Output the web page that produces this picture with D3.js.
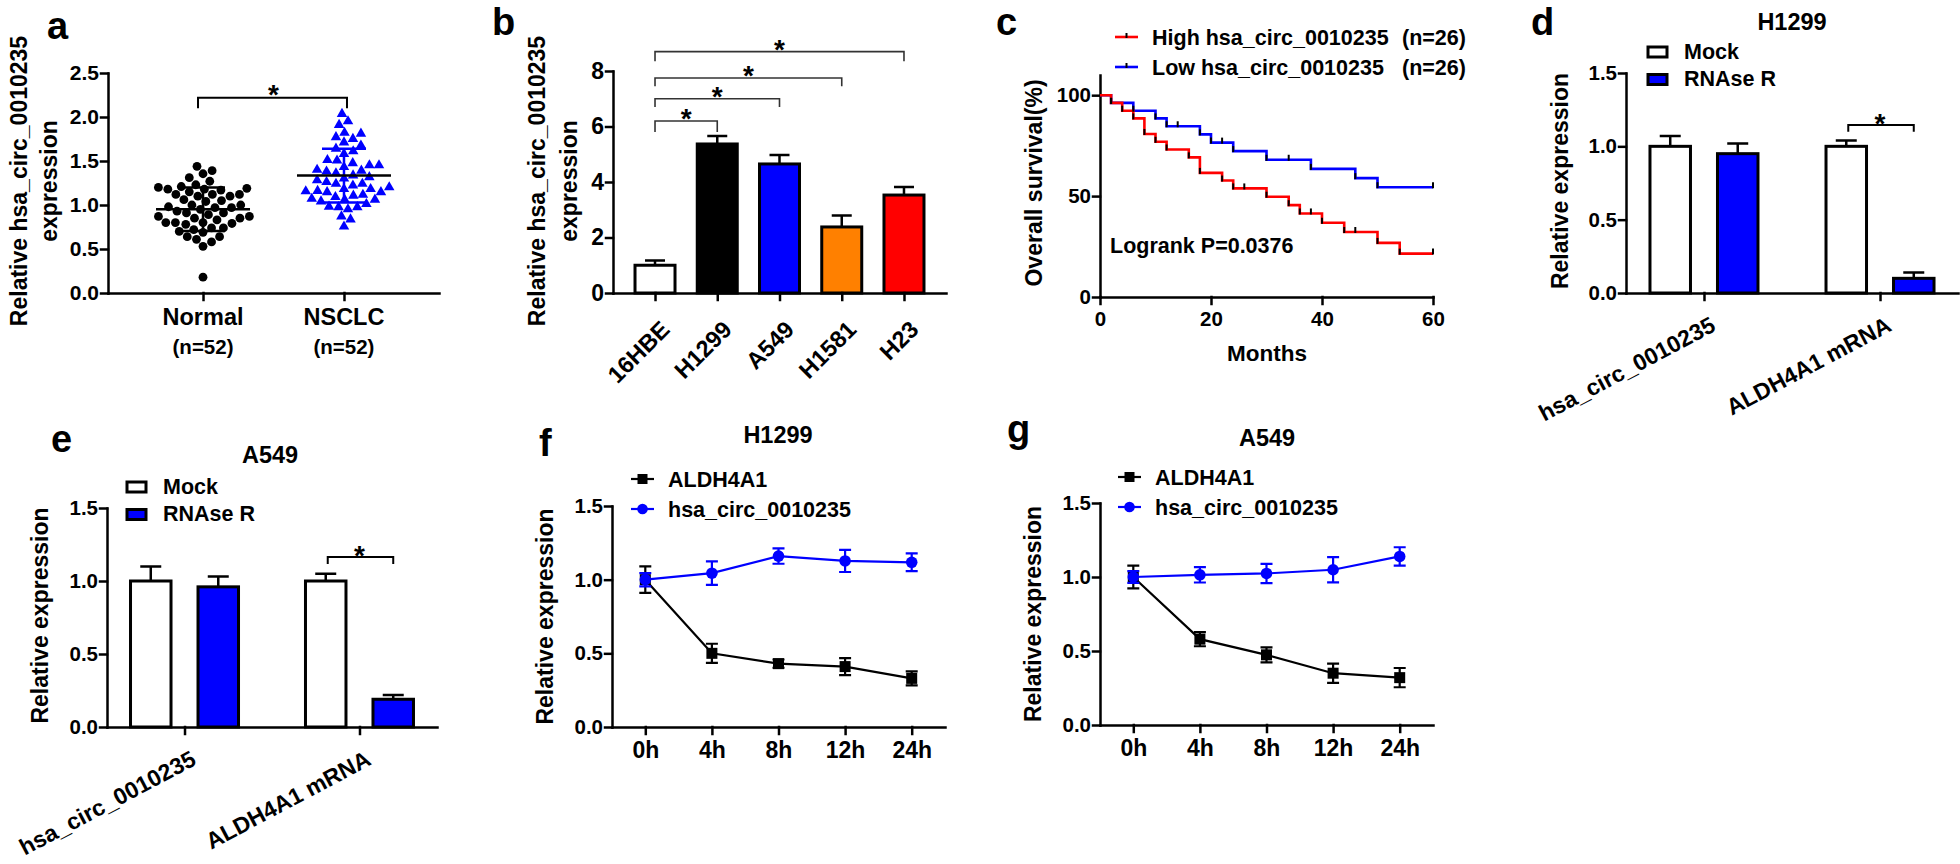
<!DOCTYPE html>
<html><head><meta charset="utf-8">
<script src="https://cdn.jsdelivr.net/npm/d3@7"></script>
<style>
body{margin:0;background:#fff;}
svg{display:block;font-family:"Liberation Sans",Arial,Helvetica,sans-serif;font-weight:bold;}
</style></head><body>
<svg id="fig" width="1960" height="864"></svg>
<script>
// ---------------- DATA ----------------
// Panel a
const scatterGroups = ["Normal", "NSCLC"];
const scatterCounts = ["(n=52)", "(n=52)"];
const normalValues = [1.44,1.39,1.355,1.31,1.27,1.23,1.19,1.21,1.18,1.20,1.17,1.18,1.15,1.12,1.12,1.10,1.10,1.12,1.06,1.05,1.04,1.00,1.00,0.98,0.97,0.97,0.95,0.93,0.91,0.91,0.89,0.85,0.83,0.87,0.87,0.85,0.80,0.78,0.80,0.80,0.79,0.74,0.72,0.70,0.74,0.69,0.64,0.61,0.58,0.64,0.53,0.18];
const nsclcValues = [2.045,1.92,1.96,1.82,1.83,1.78,1.76,1.72,1.685,1.65,1.59,1.62,1.52,1.515,1.485,1.46,1.44,1.46,1.40,1.41,1.39,1.345,1.37,1.325,1.31,1.29,1.27,1.25,1.23,1.19,1.19,1.21,1.165,1.17,1.155,1.125,1.155,1.115,1.10,1.07,1.07,1.08,1.05,1.02,0.985,0.985,0.96,0.99,0.88,0.845,0.765,1.25];
const scatterSig = [["Normal", "NSCLC", 2.22, 2.1]];

// Panel b
const cellLines = ["16HBE", "H1299", "A549", "H1581", "H23"];
const cellMeans = [1.0, 5.37, 4.65, 2.38, 3.53];
const cellErrors = [0.17, 0.29, 0.32, 0.41, 0.29];
const cellSig = [["16HBE","H1299",6.2,5.8],["16HBE","A549",7.0,6.7],["16HBE","H1581",7.75,7.45],["16HBE","H23",8.7,8.35]];

// Panel c
const kmHighTimes = [0,2,4,6,8,10,12,16,18,22,24,30,34,36,40,44,50,54,60];
const kmHighSurv  = [100,96.2,92.3,88.5,80.8,76.9,73.1,69.2,61.5,57.7,53.8,49.7,45.5,41.4,36.8,32.2,26.8,21.5,21.5];
const kmHighCensored = [26,38,46,60];
const kmLowTimes = [0,2,6,10,12,18,20,24,30,38,46,50,60];
const kmLowSurv  = [100,96.2,92.3,88.5,84.6,80.6,76.5,72.3,68.0,63.5,58.9,54.4,54.4];
const kmLowCensored = [14,22,34,60];
const kmLabels = ["High hsa_circ_0010235", "Low hsa_circ_0010235"];
const kmCounts = ["(n=26)", "(n=26)"];
const logrankText = "Logrank P=0.0376";

// Panels d, e
const rnaseTargets = ["hsa_circ_0010235", "ALDH4A1 mRNA"];
const rnaseTreatments = ["Mock", "RNAse R"];
const h1299Mock = [1.0, 1.0];
const h1299MockErr = [0.07, 0.04];
const h1299RNase = [0.95, 0.10];
const h1299RNaseErr = [0.07, 0.04];
const h1299Sig = ["ALDH4A1 mRNA", 1.145, 1.10];
const a549Mock = [1.0, 1.0];
const a549MockErr = [0.10, 0.05];
const a549RNase = [0.96, 0.19];
const a549RNaseErr = [0.07, 0.03];
const a549Sig = ["ALDH4A1 mRNA", 1.164, 1.116];

// Panels f, g
const timePoints = ["0h", "4h", "8h", "12h", "24h"];
const seriesNames = ["ALDH4A1", "hsa_circ_0010235"];
const h1299Aldh = [1.0, 0.50, 0.43, 0.41, 0.33];
const h1299AldhErr = [0.09, 0.065, 0.028, 0.058, 0.048];
const h1299Circ = [1.0, 1.044, 1.16, 1.127, 1.118];
const h1299CircErr = [0.045, 0.08, 0.052, 0.075, 0.06];
const a549Aldh = [1.0, 0.58, 0.474, 0.35, 0.32];
const a549AldhErr = [0.077, 0.048, 0.051, 0.065, 0.065];
const a549Circ = [1.0, 1.015, 1.024, 1.049, 1.139];
const a549CircErr = [0.04, 0.052, 0.065, 0.085, 0.062];

// ---------------- DRAWING ----------------
const svg = d3.select("#fig");
const FONT = '"Liberation Sans",Arial,Helvetica,sans-serif';
const BLUE = "#0000ff";

function styleAxis(g, fs) {
  g.attr("font-family", FONT).attr("font-weight", "bold");
  g.selectAll("path,line").attr("stroke", "#000").attr("stroke-width", 2.5).attr("stroke-linecap", "square");
  g.selectAll("text").attr("font-size", fs).attr("fill", "#000");
}
function text(x, y, s, fs, anchor) {
  return svg.append("text").attr("x", x).attr("y", y).attr("font-size", fs)
    .attr("text-anchor", anchor || "start").attr("fill", "#000").text(s);
}
function vtext(x, cy, s, fs) {
  svg.append("text").attr("transform", `translate(${x},${cy}) rotate(-90)`)
    .attr("text-anchor", "middle").attr("font-size", fs).attr("fill", "#000").text(s);
}
function star(cx, cy) {
  svg.append("text").attr("x", cx).attr("y", cy + 16).attr("text-anchor", "middle")
    .attr("font-size", 28).attr("fill", "#000").text("*");
}
function bracket(x1, x2, yTop, yDrop, color, w) {
  svg.append("path").attr("d", `M${x1},${yDrop}V${yTop}H${x2}V${yDrop}`)
    .attr("fill", "none").attr("stroke", color).attr("stroke-width", w);
}
function yAxis(y, x, ticks, fmt, fs) {
  const g = svg.append("g").attr("transform", `translate(${x},0)`)
    .call(d3.axisLeft(y).tickValues(ticks).tickFormat(fmt).tickSize(7).tickPadding(2).tickSizeOuter(0));
  styleAxis(g, fs);
  return g;
}
function xAxis(x, y0, fs, withLabels, pad) {
  const ax = d3.axisBottom(x).tickSize(7).tickSizeOuter(0).tickPadding(pad || 8);
  if (!withLabels) ax.tickFormat("");
  const g = svg.append("g").attr("transform", `translate(0,${y0})`).call(ax);
  styleAxis(g, fs);
  return g;
}
function beeswarm(values, yScale, d) {
  const order = values.map((v, i) => i).sort((a, b) => values[a] - values[b]);
  const placed = [], xs = new Array(values.length);
  for (const i of order) {
    const yi = yScale(values[i]);
    const near = placed.filter(p => Math.abs(p.y - yi) < d);
    const cands = [0];
    near.forEach(p => { const dx = Math.sqrt(d * d - (p.y - yi) ** 2); cands.push(p.x + dx, p.x - dx); });
    cands.sort((a, b) => Math.abs(a) - Math.abs(b));
    let best = 0;
    for (const c of cands) {
      if (near.every(p => (p.x - c) ** 2 + (p.y - yi) ** 2 >= d * d - 1e-6)) { best = c; break; }
    }
    xs[i] = best; placed.push({ x: best, y: yi });
  }
  return xs;
}
const LETTER = 38;

// ===== Panel a =====
(function () {
  const x = d3.scalePoint().domain(scatterGroups).range([108, 439]).padding(0.674);
  const y = d3.scaleLinear().domain([0, 2.5]).range([293, 73]);
  text(47, 39, "a", LETTER);
  vtext(27, 181, "Relative hsa_circ_0010235", 23);
  vtext(57, 181, "expression", 23);
  yAxis(y, 108, [0, 0.5, 1, 1.5, 2, 2.5], d3.format(".1f"), 21);
  xAxis(x, 293, 21, false);
  scatterGroups.forEach((g, i) => {
    text(x(g), 325, g, 23.5, "middle");
    text(x(g), 354, scatterCounts[i], 20.5, "middle");
  });
  const sets = [normalValues, nsclcValues];
  const colors = ["#000", BLUE];
  sets.forEach((vals, k) => {
    const cx = x(scatterGroups[k]);
    const offs = beeswarm(vals, y, 9.6);
    const grp = svg.append("g");
    if (k === 0) {
      grp.selectAll("circle").data(vals).join("circle")
        .attr("cx", (d, i) => cx + offs[i]).attr("cy", d => y(d)).attr("r", 4.4).attr("fill", colors[k]);
    } else {
      const sym = d3.symbol().type(d3.symbolTriangle).size(48);
      grp.selectAll("path").data(vals).join("path")
        .attr("transform", (d, i) => `translate(${cx + offs[i]},${y(d) + 0.8})`).attr("d", sym).attr("fill", colors[k]);
    }
    const m = d3.mean(vals), sd = d3.deviation(vals);
    svg.append("path").attr("d", `M${cx - 22},${y(m + sd)}H${cx + 22}M${cx},${y(m + sd)}V${y(m - sd)}M${cx - 22},${y(m - sd)}H${cx + 22}`)
      .attr("stroke", colors[k]).attr("stroke-width", 2.5).attr("fill", "none");
    svg.append("line").attr("x1", cx - 47).attr("x2", cx + 47).attr("y1", y(m)).attr("y2", y(m))
      .attr("stroke", "#000").attr("stroke-width", 2.5);
  });
  scatterSig.forEach(([a, b, top, drop]) => {
    bracket(x(a) - 5, x(b) + 3, y(top), y(drop), "#000", 2);
    star((x(a) + x(b)) / 2, y(top) - 10);
  });
})();

// ===== Panel b =====
(function () {
  const x = d3.scalePoint().domain(cellLines).range([613, 946]).padding(0.675);
  const y = d3.scaleLinear().domain([0, 8]).range([293, 71]);
  const fills = ["#ffffff", "#000000", BLUE, "#ff8000", "#ff0000"];
  text(492, 35, "b", LETTER);
  vtext(545, 181, "Relative hsa_circ_0010235", 23);
  vtext(577, 181, "expression", 23);
  svg.append("g").selectAll("rect").data(cellMeans).join("rect")
    .attr("x", (d, i) => x(cellLines[i]) - 20).attr("width", 40)
    .attr("y", d => y(d)).attr("height", d => y(0) - y(d))
    .attr("fill", (d, i) => fills[i]).attr("stroke", "#000").attr("stroke-width", 3);
  cellMeans.forEach((m, i) => {
    const cx = x(cellLines[i]);
    svg.append("path").attr("d", `M${cx},${y(m)}V${y(m + cellErrors[i])}M${cx - 10},${y(m + cellErrors[i])}H${cx + 10}`)
      .attr("stroke", "#000").attr("stroke-width", 2.5).attr("fill", "none");
  });
  yAxis(y, 613, [0, 2, 4, 6, 8], d3.format("d"), 23);
  xAxis(x, 293, 23, false);
  cellLines.forEach(c => {
    svg.append("text").attr("transform", `translate(${x(c) + 16},331) rotate(-45)`)
      .attr("text-anchor", "end").attr("font-size", 23.5).attr("fill", "#000").text(c);
  });
  cellSig.forEach(([a, b, top, drop]) => {
    bracket(x(a), x(b), y(top), y(drop), "#333", 1.6);
    star((x(a) + x(b)) / 2, y(top) - 9);
  });
})();

// ===== Panel c =====
(function () {
  const x = d3.scaleLinear().domain([0, 60]).range([1100, 1433]);
  const y = d3.scaleLinear().domain([0, 110]).range([297, 75]);
  text(996, 35, "c", LETTER);
  vtext(1042, 183, "Overall survival(%)", 23);
  const ya = svg.append("g").attr("transform", "translate(1100,0)")
    .call(d3.axisLeft(y).tickValues([0, 50, 100]).tickSize(7).tickPadding(2).tickSizeOuter(0));
  styleAxis(ya, 20.5);
  const xa = svg.append("g").attr("transform", "translate(0,297)")
    .call(d3.axisBottom(x).tickValues([0, 20, 40, 60]).tickSize(7).tickPadding(7).tickSizeOuter(0));
  styleAxis(xa, 20.5);
  text(1267, 361, "Months", 22.5, "middle");
  text(1110, 253, logrankText, 21.5);
  const line = d3.line().x(d => x(d[0])).y(d => y(d[1])).curve(d3.curveStepAfter);
  const sets = [
    { t: kmLowTimes, s: kmLowSurv, c: kmLowCensored, col: BLUE },
    { t: kmHighTimes, s: kmHighSurv, c: kmHighCensored, col: "#ff0000" }
  ];
  sets.forEach(st => {
    const pts = st.t.map((t, i) => [t, st.s[i]]);
    svg.append("path").attr("d", line(pts)).attr("fill", "none").attr("stroke", st.col).attr("stroke-width", 2.6);
  });
  sets.forEach(st => {
    const marks = [];
    st.t.forEach((t, i) => { if (i > 0 && i < st.t.length - 1) marks.push([t, st.s[i]]); });
    st.c.forEach(t => {
      let v = st.s[0];
      st.t.forEach((tt, i) => { if (tt <= t) v = st.s[i]; });
      marks.push([t, v]);
    });
    svg.append("g").selectAll("line").data(marks).join("line")
      .attr("x1", d => x(d[0])).attr("x2", d => x(d[0]))
      .attr("y1", d => y(d[1]) - 5).attr("y2", d => y(d[1]) + 1)
      .attr("stroke", "#000").attr("stroke-width", 2);
  });
  const legCols = ["#ff0000", BLUE];
  [37, 67].forEach((ly, i) => {
    svg.append("line").attr("x1", 1115).attr("x2", 1138).attr("y1", ly).attr("y2", ly)
      .attr("stroke", legCols[i]).attr("stroke-width", 2.6);
    svg.append("line").attr("x1", 1126.5).attr("x2", 1126.5).attr("y1", ly - 4).attr("y2", ly + 1)
      .attr("stroke", "#000").attr("stroke-width", 2);
    text(1152, ly + 8, kmLabels[i], 21.5);
    text(1402, ly + 8, kmCounts[i], 21.5);
  });
})();

// ===== Panels d & e =====
function rnasePanel(o) {
  const x = d3.scalePoint().domain(rnaseTargets).range([o.x0, o.x1]).padding(0.443);
  const xi = d3.scaleBand().domain(rnaseTreatments).range([-54, 54]).paddingInner(0.4);
  const y = d3.scaleLinear().domain([0, 1.5]).range([o.yb, o.yt]);
  text(o.letter[1], o.letter[2], o.letter[0], LETTER);
  text(o.title[1], o.title[2], o.title[0], 23.5, "middle");
  vtext(o.ylabX, (o.yb + o.yt) / 2 - 2, "Relative expression", 23);
  const series = [[o.mock, o.mockErr, "#fff"], [o.rnase, o.rnaseErr, BLUE]];
  series.forEach(([vals, errs, fill], k) => {
    const tr = rnaseTreatments[k];
    svg.append("g").selectAll("rect").data(vals).join("rect")
      .attr("x", (d, i) => x(rnaseTargets[i]) + xi(tr)).attr("width", xi.bandwidth())
      .attr("y", d => y(d)).attr("height", d => y(0) - y(d))
      .attr("fill", fill).attr("stroke", "#000").attr("stroke-width", 3);
    vals.forEach((v, i) => {
      const cx = x(rnaseTargets[i]) + xi(tr) + xi.bandwidth() / 2;
      svg.append("path").attr("d", `M${cx},${y(v)}V${y(v + errs[i])}M${cx - 10.5},${y(v + errs[i])}H${cx + 10.5}`)
        .attr("stroke", "#000").attr("stroke-width", 2.5).attr("fill", "none");
    });
  });
  yAxis(y, o.x0, [0, 0.5, 1, 1.5], d3.format(".1f"), 20.5);
  xAxis(x, o.yb, 20, false);
  rnaseTargets.forEach(t => {
    svg.append("text").attr("transform", `translate(${x(t) + 13},${o.yb + 37}) rotate(-28)`)
      .attr("text-anchor", "end").attr("font-size", 23).attr("fill", "#000").text(t);
  });
  rnaseTreatments.forEach((tr, k) => {
    const ly = o.leg[1] + k * 27.5;
    svg.append("rect").attr("x", o.leg[0]).attr("y", ly).attr("width", 19).attr("height", 10)
      .attr("fill", k === 0 ? "#fff" : BLUE).attr("stroke", "#000").attr("stroke-width", 3);
    text(o.leg[0] + 36, ly + 11.5, tr, 21.5);
  });
  const [g, top, drop] = o.sig;
  const c1 = x(g) + xi("Mock") + xi.bandwidth() / 2, c2 = x(g) + xi("RNAse R") + xi.bandwidth() / 2;
  bracket(c1 + 2, c2, y(top), y(drop), "#000", 2);
  star((c1 + c2) / 2, y(top) - 8);
}
rnasePanel({ x0: 1626, x1: 1958, yb: 293, yt: 73, letter: ["d", 1531, 35], title: ["H1299", 1792, 30],
  ylabX: 1568, mock: h1299Mock, mockErr: h1299MockErr, rnase: h1299RNase, rnaseErr: h1299RNaseErr,
  leg: [1648, 47], sig: h1299Sig });
rnasePanel({ x0: 107, x1: 437, yb: 727, yt: 508, letter: ["e", 51, 452], title: ["A549", 270, 463],
  ylabX: 48, mock: a549Mock, mockErr: a549MockErr, rnase: a549RNase, rnaseErr: a549RNaseErr,
  leg: [127, 482], sig: a549Sig });

// ===== Panels f & g =====
function timePanel(o) {
  const x = d3.scalePoint().domain(timePoints).range([o.x0, o.x1]).padding(0.5);
  const y = d3.scaleLinear().domain([0, 1.5]).range([o.yb, o.yt]);
  text(o.letter[1], o.letter[2], o.letter[0], LETTER);
  text(o.title[1], o.title[2], o.title[0], 23.5, "middle");
  vtext(o.ylabX, (o.yb + o.yt) / 2, "Relative expression", 23);
  yAxis(y, o.x0, [0, 0.5, 1, 1.5], d3.format(".1f"), 20.5);
  xAxis(x, o.yb, 23, true, 8);
  const series = [[o.aldh, o.aldhErr, "#000", "sq"], [o.circ, o.circErr, BLUE, "ci"]];
  const line = d3.line().x((d, i) => x(timePoints[i])).y(d => y(d));
  series.forEach(([vals, errs, col, shape]) => {
    svg.append("path").attr("d", line(vals)).attr("fill", "none").attr("stroke", col).attr("stroke-width", 2.2);
    vals.forEach((v, i) => {
      const cx = x(timePoints[i]);
      svg.append("path").attr("d", `M${cx},${y(v - errs[i])}V${y(v + errs[i])}M${cx - 6},${y(v + errs[i])}H${cx + 6}M${cx - 6},${y(v - errs[i])}H${cx + 6}`)
        .attr("stroke", col).attr("stroke-width", 2.2).attr("fill", "none");
    });
    const g = svg.append("g");
    if (shape === "sq") {
      g.selectAll("rect").data(vals).join("rect")
        .attr("x", (d, i) => x(timePoints[i]) - 5.5).attr("y", d => y(d) - 5.5)
        .attr("width", 11).attr("height", 11).attr("fill", col);
    } else {
      g.selectAll("circle").data(vals).join("circle")
        .attr("cx", (d, i) => x(timePoints[i])).attr("cy", d => y(d)).attr("r", 5.8).attr("fill", col);
    }
  });
  series.forEach(([vals, errs, col, shape], k) => {
    const ly = o.leg[1] + k * 30;
    svg.append("line").attr("x1", o.leg[0]).attr("x2", o.leg[0] + 23).attr("y1", ly).attr("y2", ly)
      .attr("stroke", col).attr("stroke-width", 2.2);
    const mx = o.leg[0] + 11.5;
    if (shape === "sq") svg.append("rect").attr("x", mx - 5).attr("y", ly - 5).attr("width", 10).attr("height", 10).attr("fill", col);
    else svg.append("circle").attr("cx", mx).attr("cy", ly).attr("r", 5.3).attr("fill", col);
    text(o.leg[0] + 37, ly + 7.5, seriesNames[k], 21.5);
  });
}
timePanel({ x0: 612, x1: 945, yb: 727, yt: 506, letter: ["f", 539, 456], title: ["H1299", 778, 443],
  ylabX: 553, aldh: h1299Aldh, aldhErr: h1299AldhErr, circ: h1299Circ, circErr: h1299CircErr, leg: [631, 479] });
timePanel({ x0: 1100, x1: 1433, yb: 725, yt: 503, letter: ["g", 1007, 442], title: ["A549", 1267, 446],
  ylabX: 1041, aldh: a549Aldh, aldhErr: a549AldhErr, circ: a549Circ, circErr: a549CircErr, leg: [1118, 477] });
</script>
</body></html>
